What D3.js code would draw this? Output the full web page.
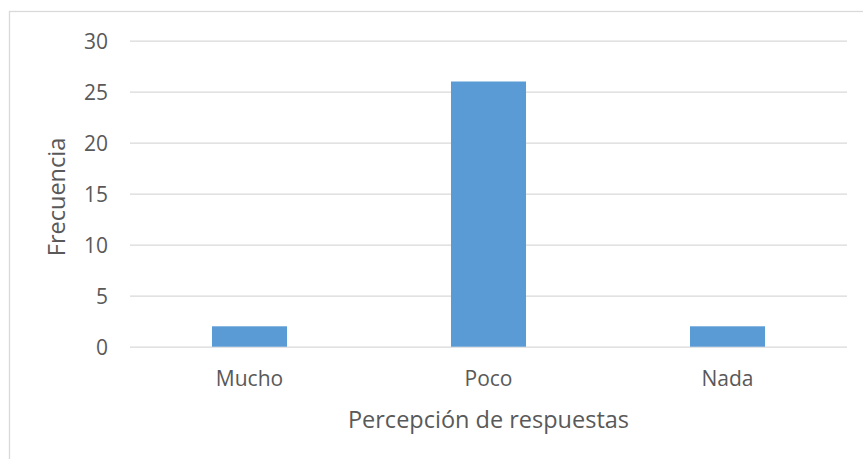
<!DOCTYPE html>
<html>
<head>
<meta charset="utf-8">
<script src="https://cdn.jsdelivr.net/npm/d3@7"></script>
<style>
  html, body { margin: 0; padding: 0; background: #fff; }
  svg { display: block; }
  text { font-family: "Open Sans", "Noto Sans", sans-serif; fill: #595959; }
</style>
</head>
<body>
<svg id="chart" width="863" height="459"></svg>
<script>
const categories = ["Mucho", "Poco", "Nada"];
const values = [2, 26, 2];
const yTicks = [0, 5, 10, 15, 20, 25, 30];
const xTitle = "Percepción de respuestas";
const yTitle = "Frecuencia";

const svg = d3.select("#chart");
const W = 863, H = 459;
const plot = { left: 130, right: 847, top: 40.7, bottom: 346.7 };

// chart border (extends past right/bottom edges like the reference)
svg.append("rect")
  .attr("x", 9.5).attr("y", 11.5)
  .attr("width", W + 10).attr("height", H + 10)
  .attr("fill", "#fff").attr("stroke", "#D9D9D9").attr("stroke-width", 1.3);

const x = d3.scaleBand()
  .domain(categories)
  .range([plot.left, plot.right])
  .paddingInner(0.686)
  .paddingOuter(0.343);

const y = d3.scaleLinear()
  .domain([0, 30])
  .range([plot.bottom, plot.top]);

// gridlines
const yAxis = d3.axisLeft(y).tickValues(yTicks).tickSize(-(plot.right - plot.left)).tickPadding(22);
const gy = svg.append("g").attr("transform", `translate(${plot.left},0)`).call(yAxis);
gy.select(".domain").remove();
gy.selectAll(".tick line").attr("stroke", "#D9D9D9").attr("stroke-width", 1.3);
gy.selectAll(".tick text").attr("font-size", 21).attr("fill", "#595959")
  .attr("font-family", "'Open Sans', sans-serif").attr("dy", "0.35em");

// bars
svg.append("g").selectAll("rect")
  .data(values)
  .join("rect")
  .attr("x", (d, i) => x(categories[i]))
  .attr("width", x.bandwidth())
  .attr("y", d => y(d))
  .attr("height", d => y(0) - y(d))
  .attr("fill", "#5B9BD5");

// x axis labels
const xAxis = d3.axisBottom(x).tickSize(0).tickPadding(24);
const gx = svg.append("g").attr("transform", `translate(0,${plot.bottom})`).call(xAxis);
gx.select(".domain").remove();
gx.selectAll(".tick text").attr("font-size", 21).attr("fill", "#595959")
  .attr("font-family", "'Open Sans', sans-serif");

// axis titles
svg.append("text")
  .attr("x", (plot.left + plot.right) / 2)
  .attr("y", 428)
  .attr("text-anchor", "middle")
  .attr("font-size", 23.5)
  .text(xTitle);

svg.append("text")
  .attr("transform", `translate(65,197) rotate(-90)`)
  .attr("text-anchor", "middle")
  .attr("font-size", 23.5)
  .text(yTitle);
</script>
</body>
</html>
